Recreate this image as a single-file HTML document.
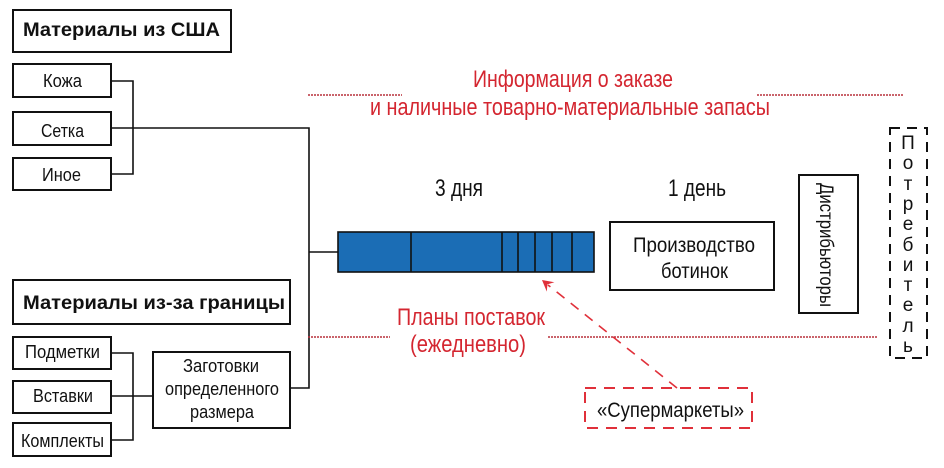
<!DOCTYPE html>
<html><head><meta charset="utf-8"><style>
html,body{margin:0;padding:0;background:#fff;}
svg{display:block;}
text{font-family:"Liberation Sans",Arial,sans-serif;}
</style></head><body>
<svg width="944" height="468" viewBox="0 0 944 468" xmlns="http://www.w3.org/2000/svg">
<rect x="0" y="0" width="944" height="468" fill="#fff"/>
<g fill="none" stroke="#111" stroke-width="2">
<rect x="13" y="10" width="218" height="42"/>
<rect x="13" y="64" width="98" height="33"/>
<rect x="13" y="112" width="98" height="33"/>
<rect x="13" y="158" width="98" height="32"/>
<rect x="13" y="280" width="277" height="44"/>
<rect x="13" y="337" width="98" height="32"/>
<rect x="13" y="381" width="98" height="32"/>
<rect x="13" y="423" width="98" height="33"/>
<rect x="153" y="352" width="137" height="76"/>
<rect x="610" y="222" width="164" height="68"/>
<rect x="799" y="175" width="59" height="138"/>
</g>
<g fill="none" stroke="#111" stroke-width="1.6">
<path d="M111,81 H133 V174 H111"/>
<path d="M111,128 H309 V388 H290"/>
<path d="M309,252 H338"/>
<path d="M111,353 H133 V440 H111"/>
<path d="M111,396 H153"/>
</g>
<rect x="338" y="232" width="256" height="40" fill="#1b6db5" stroke="#111" stroke-width="1.6"/>
<g stroke="#111" stroke-width="1.6">
<line x1="411" y1="232" x2="411" y2="272"/>
<line x1="502" y1="232" x2="502" y2="272"/>
<line x1="518" y1="232" x2="518" y2="272"/>
<line x1="535" y1="232" x2="535" y2="272"/>
<line x1="552" y1="232" x2="552" y2="272"/>
<line x1="572" y1="232" x2="572" y2="272"/>
</g>
<rect x="890" y="128" width="37" height="230" fill="none" stroke="#111" stroke-width="2" stroke-dasharray="10 7"/>
<rect x="585" y="388" width="167" height="40" fill="none" stroke="#e0303a" stroke-width="2" stroke-dasharray="11 8"/>
<g stroke="#b8303c" stroke-width="1.5" stroke-dasharray="2 1">
<line x1="308" y1="95" x2="402" y2="95"/>
<line x1="757" y1="95" x2="903" y2="95"/>
<line x1="308" y1="337" x2="390" y2="337"/>
<line x1="548" y1="337" x2="878" y2="337"/>
</g>
<line x1="677" y1="388" x2="548" y2="285" stroke="#e0303a" stroke-width="1.6" stroke-dasharray="10 8"/>
<polygon points="542,280 554.4,282.2 547.4,284.4 546.8,291.6" fill="#e0303a"/>
<g fill="#111" font-weight="bold" font-size="19.5">
<text x="23" y="36" textLength="197" lengthAdjust="spacingAndGlyphs">Материалы из США</text>
<text x="23" y="309" textLength="262" lengthAdjust="spacingAndGlyphs">Материалы из-за границы</text>
</g>
<g fill="#111" font-size="18.5">
<text x="43" y="87" textLength="39" lengthAdjust="spacingAndGlyphs">Кожа</text>
<text x="41" y="137" textLength="43" lengthAdjust="spacingAndGlyphs">Сетка</text>
<text x="42" y="181" textLength="39" lengthAdjust="spacingAndGlyphs">Иное</text>
<text x="25" y="358" textLength="75" lengthAdjust="spacingAndGlyphs">Подметки</text>
<text x="33" y="402" textLength="60" lengthAdjust="spacingAndGlyphs">Вставки</text>
<text x="21" y="447" textLength="83" lengthAdjust="spacingAndGlyphs">Комплекты</text>
<text x="183" y="372" textLength="76" lengthAdjust="spacingAndGlyphs">Заготовки</text>
<text x="165" y="395" textLength="114" lengthAdjust="spacingAndGlyphs">определенного</text>
<text x="190" y="418" textLength="64" lengthAdjust="spacingAndGlyphs">размера</text>
</g>
<g fill="#111" font-size="24">
<text x="435" y="196" textLength="48" lengthAdjust="spacingAndGlyphs">3 дня</text>
<text x="668" y="196" textLength="58" lengthAdjust="spacingAndGlyphs">1 день</text>
</g>
<g fill="#111" font-size="21">
<text x="633" y="252" textLength="122" lengthAdjust="spacingAndGlyphs">Производство</text>
<text x="661" y="278" textLength="67" lengthAdjust="spacingAndGlyphs">ботинок</text>
<text x="597" y="417" textLength="147" lengthAdjust="spacingAndGlyphs">«Супермаркеты»</text>
</g>
<text transform="translate(820,245) rotate(90)" text-anchor="middle" fill="#111" font-size="19" textLength="124" lengthAdjust="spacingAndGlyphs">Дистрибьюторы</text>
<g fill="#111" font-size="19" text-anchor="middle">
<text x="908" y="149">П</text>
<text x="908" y="169">о</text>
<text x="908" y="190">т</text>
<text x="908" y="210">р</text>
<text x="908" y="230">е</text>
<text x="908" y="251">б</text>
<text x="908" y="271">и</text>
<text x="908" y="291">т</text>
<text x="908" y="311">е</text>
<text x="908" y="332">л</text>
<text x="908" y="352">ь</text>
</g>
<g fill="#d42630" font-size="24">
<text x="473" y="87" textLength="200" lengthAdjust="spacingAndGlyphs">Информация о заказе</text>
<text x="370" y="115" textLength="400" lengthAdjust="spacingAndGlyphs">и наличные товарно-материальные запасы</text>
<text x="397" y="325" textLength="148" lengthAdjust="spacingAndGlyphs">Планы поставок</text>
<text x="410" y="352" textLength="116" lengthAdjust="spacingAndGlyphs">(ежедневно)</text>
</g>
</svg>
</body></html>
